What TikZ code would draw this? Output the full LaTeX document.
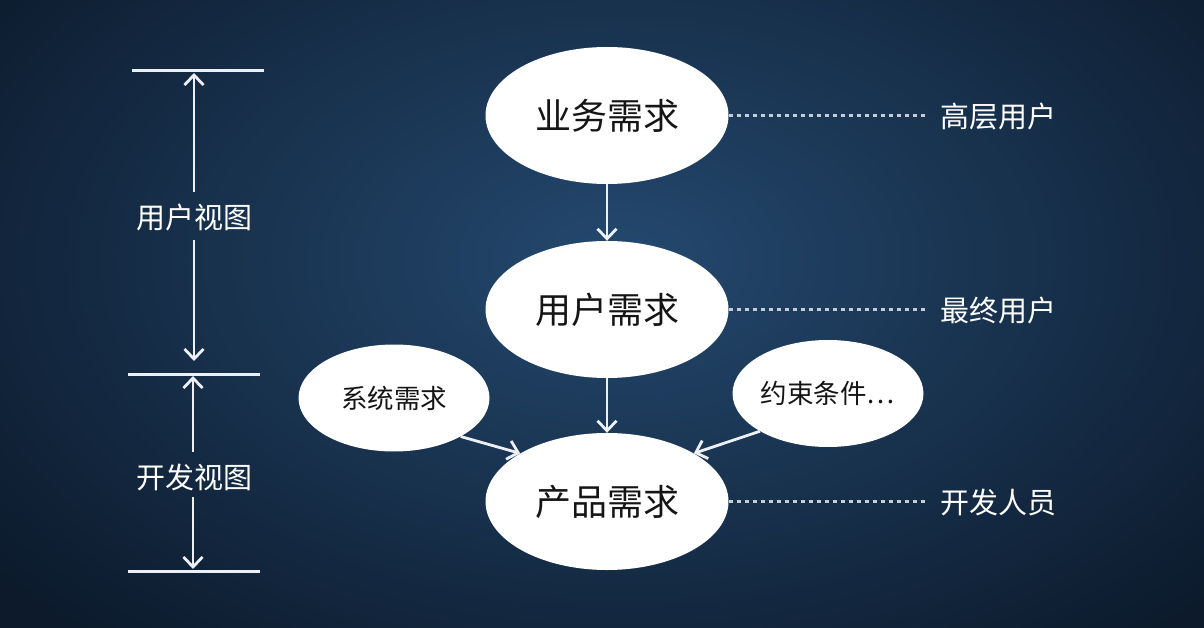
\documentclass[tikz,border=0pt]{standalone}
\usepackage{fontspec}
\newfontfamily\cjk{Noto Sans CJK SC}
\usetikzlibrary{shapes.geometric,arrows.meta}
\definecolor{navybase}{HTML}{0C1A2C}
\definecolor{navylight}{HTML}{24496F}
\definecolor{linecol}{HTML}{ECEFF3}
\definecolor{dotcol}{HTML}{C5CCD6}
\definecolor{inktext}{HTML}{151515}
\begin{document}
\begin{tikzpicture}[x=1pt,y=-1pt,
  bigell/.style={ellipse,fill=white,minimum width=243pt,minimum height=137pt,inner sep=0pt,
    font=\cjk\fontsize{36}{40}\selectfont,text=inktext},
  smallell/.style={ellipse,fill=white,minimum width=191pt,minimum height=107pt,inner sep=0pt,
    font=\cjk\fontsize{26.5}{30}\selectfont,text=inktext},
  sidelabel/.style={font=\cjk\fontsize{29}{32}\selectfont,text=white,inner sep=0pt},
  conn/.style={draw=linecol,line width=2.8pt,-{Straight Barb[length=10pt,width=19pt,line width=2.8pt]}},
  rule/.style={draw=linecol,line width=3pt},
  dotline/.style={draw=dotcol,line width=2.2pt,dash pattern=on 4pt off 4pt}]
\useasboundingbox (0,0) rectangle (1204,628);
\clip (0,0) rectangle (1204,628);
\fill[navybase] (0,0) rectangle (1204,628);
\shade[inner color=navylight,outer color=navybase] (620,260) ellipse (800 and 500);

% main ellipses
\node[bigell] (biz) at (607,115.5) {业务需求};
\node[bigell] (user) at (607,309.5) {用户需求};
\node[bigell] (prod) at (607,501.5) {产品需求};
\node[smallell] (sys) at (394,398) {系统需求};
\node[smallell] (cons) at (828,393.5) {约束条件…};

% arrows between ellipses
\draw[conn] (biz.south) -- (user.north);
\draw[conn] (user.south) -- (prod.north);
\draw[conn] (sys.-30) -- (prod.151);
\draw[conn] (cons.209) -- (prod.29);

% right labels
\node[sidelabel] (lhigh) at (998,117) {高层用户};
\node[sidelabel] (lend) at (998,310) {最终用户};
\node[sidelabel] (ldev) at (998,502) {开发人员};
\coordinate (d1) at (925,115.5);
\coordinate (d2) at (925,309.5);
\coordinate (d3) at (925,501.5);
\draw[dotline] (biz.east) -- (d1);
\draw[dotline] (user.east) -- (d2);
\draw[dotline] (prod.east) -- (d3);

% left scale
\coordinate (r1a) at (132,71);  \coordinate (r1b) at (264,71);
\coordinate (r2a) at (128,374); \coordinate (r2b) at (260,374);
\coordinate (r3a) at (128,571); \coordinate (r3b) at (260,571);
\draw[rule] (r1a) -- (r1b);
\draw[rule] (r2a) -- (r2b);
\draw[rule] (r3a) -- (r3b);
\node[sidelabel] (uview) at (194,217) {用户视图};
\node[sidelabel] (dview) at (194,477) {开发视图};
\coordinate (t1) at (194,73);
\coordinate (t1s) at (194,192);
\coordinate (t2) at (194,240);
\coordinate (t2e) at (194,361);
\coordinate (t3) at (193,376);
\coordinate (t3s) at (193,452);
\coordinate (t4) at (193,497);
\coordinate (t4e) at (193,569);
\draw[conn] (t1s) -- (t1);
\draw[conn] (t2) -- (t2e);
\draw[conn] (t3s) -- (t3);
\draw[conn] (t4) -- (t4e);
\end{tikzpicture}
\end{document}
